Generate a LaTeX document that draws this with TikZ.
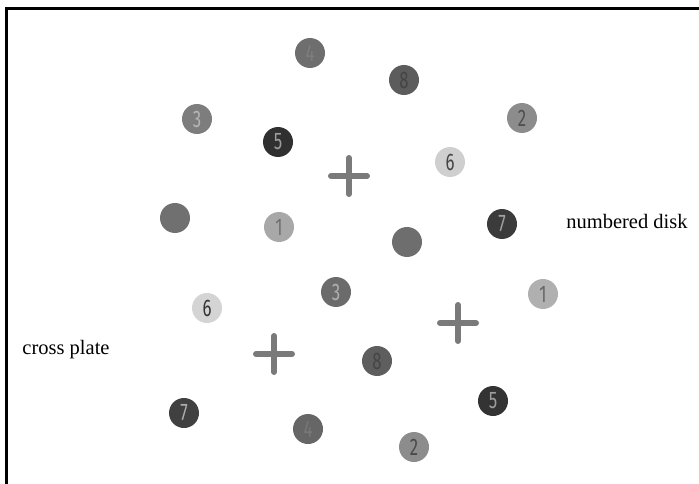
\documentclass[tikz,border=0pt]{standalone}
\usepackage{fontspec}
\setmainfont{Liberation Serif}
\newfontfamily\digitfont{Fira Sans}
\begin{document}
\begin{tikzpicture}[x=1pt,y=-1pt,
  disk/.style={circle,minimum size=30pt,inner sep=0pt,fill=black!#1},
  dg/.style={text=black!#1,font=\digitfont\fontsize{24}{24}\selectfont,xscale=0.7},
  crossbar/.style={draw=black!52,line width=6pt,line cap=round},
  label/.style={font=\fontsize{20.5}{22}\selectfont,text=black}]
\useasboundingbox (0,0) rectangle (699,484);
% frame
\coordinate (fbl) at (6,484);
\coordinate (ftl) at (6,9);
\coordinate (ftr) at (699,9);
\draw[line width=3pt] (fbl) -- (ftl) -- (ftr);
% disks
\node[disk=57] (d4a) at (310,53) {};
\node[dg=51] at (d4a) {4};
\node[disk=64] (d8a) at (404,80) {};
\node[dg=73] at (d8a) {8};
\node[disk=51] (d3a) at (197,119) {};
\node[dg=29] at (d3a) {3};
\node[disk=81] (d5a) at (278,142) {};
\node[dg=39] at (d5a) {5};
\node[disk=45] (d2a) at (522,118) {};
\node[dg=69] at (d2a) {2};
\node[disk=19] (d6a) at (450,162) {};
\node[dg=73] at (d6a) {6};
\node[disk=56] (dba) at (175,218) {};
\node[disk=34] (d1a) at (279,227) {};
\node[dg=56] at (d1a) {1};
\node[disk=77] (d7a) at (502,224) {};
\node[dg=37] at (d7a) {7};
\node[disk=57] (dbb) at (407,242) {};
\node[disk=58] (d3b) at (336,292) {};
\node[dg=31] at (d3b) {3};
\node[disk=17] (d6b) at (207,308) {};
\node[dg=80] at (d6b) {6};
\node[disk=31] (d1b) at (543,294) {};
\node[dg=60] at (d1b) {1};
\node[disk=63] (d8b) at (377,361) {};
\node[dg=73] at (d8b) {8};
\node[disk=80] (d5b) at (493,401) {};
\node[dg=39] at (d5b) {5};
\node[disk=75] (d7b) at (184,413) {};
\node[dg=33] at (d7b) {7};
\node[disk=60] (d4b) at (308,429) {};
\node[dg=53] at (d4b) {4};
\node[disk=45] (d2b) at (414,447) {};
\node[dg=71] at (d2b) {2};
% crosses
\foreach \n/\cx/\cy in {ca/349/176, cb/458/323, cc/274/354}{
  \coordinate (\n) at (\cx,\cy);
  \coordinate (\n l) at (\cx-18,\cy);
  \coordinate (\n r) at (\cx+18,\cy);
  \coordinate (\n t) at (\cx,\cy-18);
  \coordinate (\n b) at (\cx,\cy+18);
  \draw[crossbar] (\n l) -- (\n r);
  \draw[crossbar] (\n t) -- (\n b);
}
% labels
\node[label] (lnum) at (627,221) {numbered disk};
\node[label] (lcross) at (66,350) {cross plate};
\end{tikzpicture}
\end{document}
